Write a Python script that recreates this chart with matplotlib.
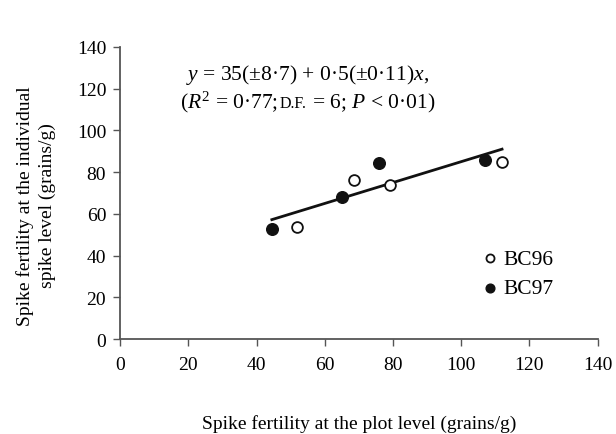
import numpy as np
import matplotlib
matplotlib.use('Agg')
import matplotlib.pyplot as plt

plt.rcParams['font.family'] = 'Liberation Serif'
plt.rcParams['mathtext.fontset'] = 'custom'
plt.rcParams['mathtext.rm'] = 'Liberation Serif'
plt.rcParams['mathtext.it'] = 'Liberation Serif:italic'

# data
bc96_x = [52, 68.5, 79, 112]
bc96_y = [53.5, 76, 74, 85]
bc97_x = [44.5, 65, 76, 107]
bc97_y = [53, 68, 84.5, 86]
intercept = 35
slope = 0.5

fig = plt.figure(figsize=(6.16, 4.35), dpi=100)
ax = fig.add_axes([0.195, 0.218, 0.775, 0.672])

allx = np.array(bc96_x + bc97_x)
xl = np.array([allx.min(), allx.max()])
ax.plot(xl, intercept + slope * xl, color='#111111', lw=2, zorder=1)

ax.scatter(bc96_x, bc96_y, s=60, facecolors='white', edgecolors='#111111', linewidths=1.3, zorder=3, label='BC96')
ax.scatter(bc97_x, bc97_y, s=70, facecolors='#111111', edgecolors='#111111', linewidths=1.0, zorder=3, label='BC97')

ax.set_xlim(0, 140)
ax.set_ylim(0, 140)
ax.set_xticks(range(0, 141, 20))
ax.set_yticks(range(0, 141, 20))
for s in ['top', 'right']:
    ax.spines[s].set_visible(False)
for s in ['left', 'bottom']:
    ax.spines[s].set_color('#555555')
    ax.spines[s].set_linewidth(1.3)
ax.tick_params(direction='out', length=5, width=1, color='#555555', labelsize=14)
ax.tick_params(axis='x', pad=7)
ax.tick_params(axis='y', pad=5)

ax.set_xlabel('Spike fertility at the plot level (grains/g)', fontsize=14, labelpad=30)
ax.set_ylabel('Spike fertility at the individual\nspike level (grains/g)', fontsize=14,
              linespacing=1.3)
ax.yaxis.set_label_coords(-0.135, 0.46)

leg = ax.legend(loc='center left', bbox_to_anchor=(0.71, 0.225), frameon=False, fontsize=15.5,
                handletextpad=0.05, handlelength=1.1, markerscale=0.75, labelspacing=0.45)

# equation
ax.text(55, 127, r'$y$ = 35(±8·7) + 0·5(±0·11)$x$,', fontsize=15.5, ha='center', va='center')

fig.canvas.draw()
r = fig.canvas.get_renderer()
pieces = [(r'($R^2$ = 0·77; ', 15.5), ('D.F.', 11.5), (r' = 6; $P$ < 0·01)', 15.5)]
widths = []
for txt, fs in pieces:
    t = fig.text(0, 0, txt, fontsize=fs)
    widths.append(t.get_window_extent(r).width)
    t.remove()
cx, cy = ax.transData.transform((55, 111))
x0 = cx - sum(widths) / 2
for (txt, fs), w in zip(pieces, widths):
    fig.text(x0 / fig.bbox.width, cy / fig.bbox.height, txt, fontsize=fs, va='baseline')
    x0 += w

fig.savefig('out.png', dpi=100)
